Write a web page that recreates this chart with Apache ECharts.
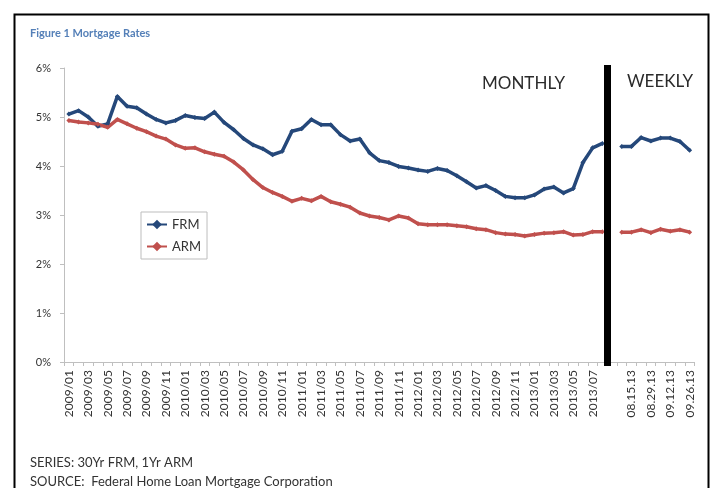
<!DOCTYPE html>
<html>
<head>
<meta charset="utf-8">
<script src="https://cdn.jsdelivr.net/npm/echarts@6/dist/echarts.min.js"></script>
<style>
html,body{margin:0;padding:0;background:#fff;}
#chart{width:715px;height:488px;}
</style>
</head>
<body>
<div id="chart"></div>
<script>
const months = [
  '2009/01','2009/02','2009/03','2009/04','2009/05','2009/06','2009/07','2009/08','2009/09','2009/10','2009/11','2009/12',
  '2010/01','2010/02','2010/03','2010/04','2010/05','2010/06','2010/07','2010/08','2010/09','2010/10','2010/11','2010/12',
  '2011/01','2011/02','2011/03','2011/04','2011/05','2011/06','2011/07','2011/08','2011/09','2011/10','2011/11','2011/12',
  '2012/01','2012/02','2012/03','2012/04','2012/05','2012/06','2012/07','2012/08','2012/09','2012/10','2012/11','2012/12',
  '2013/01','2013/02','2013/03','2013/04','2013/05','2013/06','2013/07','2013/08'
];
const frmMonthly = [
  5.06,5.13,5.00,4.81,4.86,5.42,5.22,5.19,5.06,4.95,4.88,4.93,
  5.03,4.99,4.97,5.10,4.89,4.74,4.56,4.43,4.35,4.23,4.30,4.71,
  4.76,4.95,4.84,4.84,4.64,4.51,4.55,4.27,4.11,4.07,3.99,3.96,
  3.92,3.89,3.95,3.91,3.80,3.68,3.55,3.60,3.50,3.38,3.35,3.35,
  3.41,3.53,3.57,3.45,3.54,4.07,4.37,4.46
];
const armMonthly = [
  4.93,4.90,4.88,4.85,4.79,4.95,4.86,4.77,4.70,4.61,4.55,4.43,
  4.36,4.37,4.29,4.24,4.20,4.08,3.92,3.72,3.56,3.46,3.38,3.28,
  3.34,3.29,3.38,3.27,3.22,3.16,3.04,2.98,2.95,2.90,2.98,2.94,
  2.82,2.80,2.80,2.80,2.78,2.76,2.72,2.70,2.64,2.61,2.60,2.57,
  2.60,2.63,2.64,2.66,2.59,2.60,2.66,2.66
];
const gapLabel = [''];
const weeks = ['08.08.13','08.15.13','08.22.13','08.29.13','09.05.13','09.12.13','09.19.13','09.26.13'];
const frmWeekly = [4.40,4.40,4.58,4.51,4.57,4.57,4.50,4.32];
const armWeekly = [2.65,2.65,2.70,2.64,2.71,2.67,2.70,2.65];
const yTicks = [0,1,2,3,4,5,6];

const categories = months.concat(gapLabel, weeks);
const frmData = frmMonthly.concat([null], frmWeekly);
const armData = armMonthly.concat([null], armWeekly);
const separatorAt = months.length;

const FONT = 'Lato, "Open Sans", sans-serif';
const chart = echarts.init(document.getElementById('chart'));
chart.setOption({
  animation: false,
  backgroundColor: '#fff',
  textStyle: { fontFamily: FONT },
  title: [
    { text: 'Figure 1 Mortgage Rates', left: 25, top: 23,
      textStyle: { fontFamily: FONT, fontSize: 11, fontWeight: 'bold', color: '#5580b8' } },
    { text: 'SERIES: 30Yr FRM, 1Yr ARM', left: 25, top: 451,
      textStyle: { fontFamily: FONT, fontSize: 13, fontWeight: 'normal', color: '#333' } },
    { text: 'SOURCE:  Federal Home Loan Mortgage Corporation', left: 25, top: 470,
      textStyle: { fontFamily: FONT, fontSize: 13, fontWeight: 'normal', color: '#333' } },
    { text: 'MONTHLY', left: 477, top: 70,
      textStyle: { fontFamily: FONT, fontSize: 17, fontWeight: 'normal', color: '#2b2b2b' } },
    { text: 'WEEKLY', left: 622, top: 68,
      textStyle: { fontFamily: FONT, fontSize: 17, fontWeight: 'normal', color: '#2b2b2b' } }
  ],
  graphic: [
    { type: 'rect', left: 12, top: 12, shape: { width: 694, height: 500 },
      style: { fill: 'none', stroke: '#000', lineWidth: 2 }, silent: true, z: 100 }
  ],
  legend: {
    data: ['FRM', 'ARM'],
    orient: 'vertical',
    left: 141, top: 212,
    padding: [6, 6, 6, 5],
    itemGap: 9,
    itemWidth: 20, itemHeight: 12,
    borderColor: '#bdbdbd', borderWidth: 1,
    textStyle: { fontFamily: FONT, fontSize: 13, color: '#333' }
  },
  grid: { left: 64, top: 68, width: 630.5, height: 294, containLabel: false },
  xAxis: [
    {
      type: 'category',
      data: categories,
      boundaryGap: true,
      axisLine: { lineStyle: { color: '#bfbfbf', width: 1 } },
      axisTick: { show: true, interval: 0, length: 4, lineStyle: { color: '#bfbfbf' } },
      axisLabel: { interval: 1, rotate: 90, fontSize: 12, color: '#333', margin: 8, fontFamily: FONT },
      splitLine: { show: false }
    },
    {
      type: 'value', show: false, min: 0, max: categories.length,
      splitLine: { show: false }
    }
  ],
  yAxis: {
    type: 'value', min: yTicks[0], max: yTicks[yTicks.length - 1], interval: 1,
    axisLine: { show: true, lineStyle: { color: '#bfbfbf' } },
    axisTick: { show: true, length: 4, lineStyle: { color: '#bfbfbf' } },
    axisLabel: { formatter: '{value}%', fontSize: 11, color: '#333', margin: 13, fontFamily: FONT },
    splitLine: { show: false }
  },
  series: [
    {
      name: 'FRM', type: 'line', data: frmData, connectNulls: false,
      symbol: 'diamond', symbolSize: 5, showSymbol: true,
      itemStyle: { color: '#25487a' },
      lineStyle: { color: '#25487a', width: 3.5 }
    },
    {
      name: 'ARM', type: 'line', data: armData, connectNulls: false,
      symbol: 'diamond', symbolSize: 5, showSymbol: true,
      itemStyle: { color: '#c0504d' },
      lineStyle: { color: '#c0504d', width: 3.5 }
    },
    {
      name: 'separator', type: 'line', xAxisIndex: 1, data: [],
      markLine: {
        silent: true, symbol: 'none', label: { show: false },
        lineStyle: { color: '#000', width: 7, type: 'solid' },
        data: [[{ xAxis: separatorAt, y: 65 }, { xAxis: separatorAt, y: 366 }]]
      }
    }
  ]
});
</script>
</body>
</html>
